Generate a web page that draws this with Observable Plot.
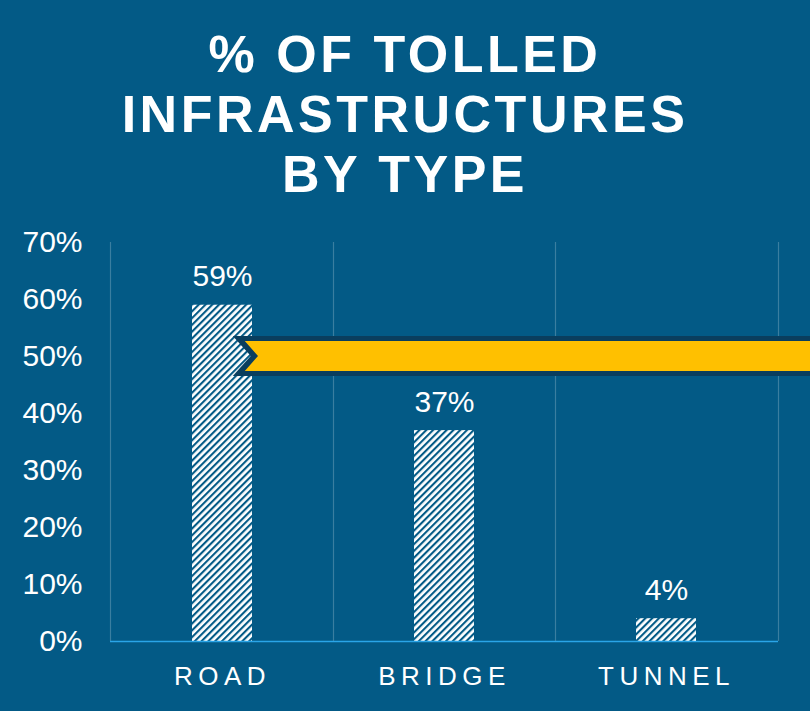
<!DOCTYPE html>
<html>
<head>
<meta charset="utf-8">
<script src="https://cdn.jsdelivr.net/npm/d3@7"></script>
<script src="https://cdn.jsdelivr.net/npm/@observablehq/plot@0.6"></script>
<style>
  html, body { margin:0; padding:0; background:#035A86; }
  body { width:810px; height:711px; overflow:hidden; font-family:"Liberation Sans", Arial, sans-serif; }
  #title { color:#fff; font-weight:bold; font-size:52px; line-height:60px; letter-spacing:3.5px; text-align:center; padding-top:24px; height:180px; margin-bottom:6px; }
  #chart svg { display:block; }
  .xlab text { letter-spacing:5.5px; }
</style>
</head>
<body>
<div id="title">% OF TOLLED<br>INFRASTRUCTURES<br>BY TYPE</div>
<div id="chart"></div>
<script>
const categories = ["ROAD", "BRIDGE", "TUNNEL"];
const values = [59, 37, 4];
const valueLabels = ["59%", "37%", "4%"];
const yTicks = [0, 10, 20, 30, 40, 50, 60, 70];
const bannerLevel = 50;

const data = categories.map((c, i) => ({cat: c, value: values[i], label: valueLabels[i]}));

const bg = "#035A86";

function gridMark(index, scales, vals, dim) {
  const g = d3.create("svg:g");
  const defs = g.append("defs");
  const pat = defs.append("pattern").attr("id", "hatch").attr("patternUnits", "userSpaceOnUse")
    .attr("width", 4.8).attr("height", 4.8).attr("patternTransform", "rotate(45)");
  pat.append("rect").attr("width", 4.8).attr("height", 4.8).attr("fill", "#fff");
  pat.append("rect").attr("width", 2.1).attr("height", 4.8).attr("fill", bg);
  const y = scales.y;
  const left = dim.marginLeft, right = dim.width - dim.marginRight;
  const n = categories.length;
  for (let i = 0; i <= n; i++) {
    const xx = Math.round(left + i * (right - left) / n) + 0.5;
    g.append("line").attr("x1", xx).attr("x2", xx)
      .attr("y1", y(yTicks[yTicks.length - 1])).attr("y2", y(0))
      .attr("stroke", "rgba(255,255,255,0.22)").attr("stroke-width", 1.2);
  }
  return g.node();
}

function bannerMark(index, scales, vals, dim) {
  const x = scales.x, y = scales.y;
  const bw = x.bandwidth ? x.bandwidth() : 60;
  const yc = y(bannerLevel);
  const ho = (y(0) - y(3.5));
  const hi = (y(0) - y(2.65));
  const bx = x(categories[0]) + bw * 0.68;
  const right = dim.width + 5;
  const g = d3.create("svg:g");
  g.append("polygon").attr("fill", "#0A3E5E").attr("points",
    [[bx, yc - ho], [right, yc - ho], [right, yc + ho], [bx, yc + ho], [bx + bw * 0.3, yc]].map(p => p.join(",")).join(" "));
  g.append("polygon").attr("fill", "#FFC000").attr("points",
    [[bx + bw * 0.2, yc - hi], [right, yc - hi], [right, yc + hi], [bx + bw * 0.2, yc + hi], [bx + bw * 0.42, yc]].map(p => p.join(",")).join(" "));
  return g.node();
}

const chart = Plot.plot({
  width: 810,
  height: 501,
  marginTop: 32,
  marginBottom: 70,
  marginLeft: 110,
  marginRight: 32,
  style: {background: "transparent", color: "#fff", fontFamily: "'Liberation Sans', Arial, sans-serif", overflow: "visible"},
  x: {domain: categories, paddingInner: 0.731, paddingOuter: 0.3655, label: null},
  y: {domain: [0, 70], label: null},
  marks: [
    gridMark,
    Plot.barY(data, {x: "cat", y: "value", fill: "url(#hatch)"}),
    Plot.ruleY([0], {stroke: "#2AA5E8", strokeWidth: 1.5}),
    Plot.text(data, {x: "cat", y: "value", text: "label", dy: -19, lineAnchor: "bottom", fill: "#fff", fontSize: 30}),
    bannerMark,
    Plot.axisY({ticks: yTicks, tickFormat: d => d + "%", tickSize: 0, tickPadding: 28, fontSize: 30, label: null}),
    Plot.axisX({tickSize: 0, tickPadding: 25, fontSize: 26, label: null, className: "xlab"})
  ]
});
document.getElementById("chart").appendChild(chart);
</script>
</body>
</html>
